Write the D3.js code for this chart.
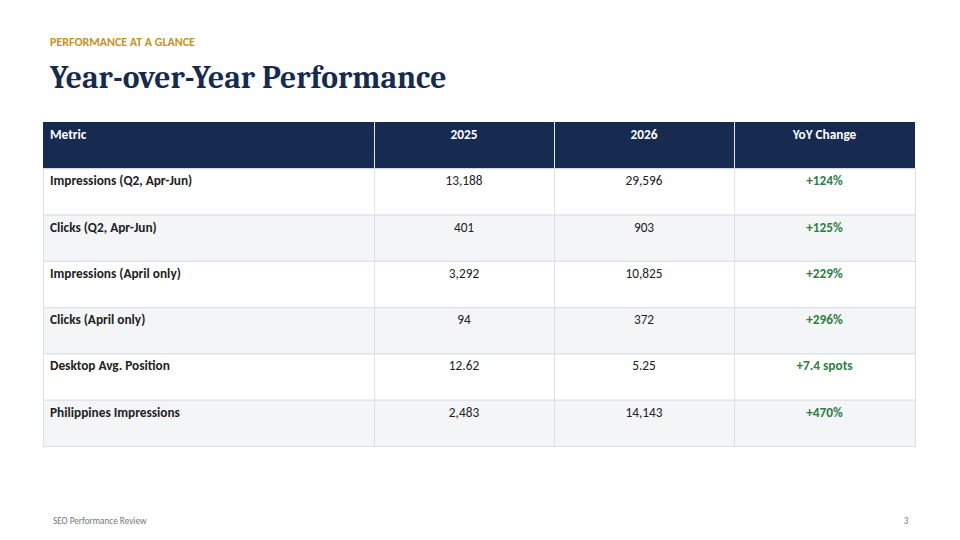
<!DOCTYPE html>
<html>
<head>
<meta charset="utf-8">
<script src="https://cdn.jsdelivr.net/npm/d3@7"></script>
<style>
  body { margin: 0; background: #fff; }
  svg { display: block; }
</style>
</head>
<body>
<div id="slide"></div>
<script>
// table content
var columns = ["Metric", "2025", "2026", "YoY Change"];
var metrics = ["Impressions (Q2, Apr-Jun)", "Clicks (Q2, Apr-Jun)", "Impressions (April only)",
  "Clicks (April only)", "Desktop Avg. Position", "Philippines Impressions"];
var values2025 = ["13,188", "401", "3,292", "94", "12.62", "2,483"];
var values2026 = ["29,596", "903", "10,825", "372", "5.25", "14,143"];
var yoyChange = ["+124%", "+125%", "+229%", "+296%", "+7.4 spots", "+470%"];

var w = 960, h = 540;
var sans = "Carlito, Calibri, Lato, 'Open Sans', sans-serif";

var svg = d3.select("#slide").append("svg")
  .attr("width", w)
  .attr("height", h);

// kicker + title
svg.append("text")
  .attr("x", 50).attr("y", 46)
  .attr("font-family", sans)
  .attr("font-size", 12)
  .attr("font-weight", 700)
  .attr("fill", "#c8901c")
  .text("PERFORMANCE AT A GLANCE");

svg.append("text")
  .attr("x", 50).attr("y", 88)
  .attr("font-family", "Caladea, Cambria, 'Liberation Serif', serif")
  .attr("font-size", 31.6)
  .attr("font-weight", 700)
  .attr("fill", "#172a50")
  .text("Year-over-Year Performance");

// table layout
var rows = metrics.map(function (m, i) {
  return [m, values2025[i], values2026[i], yoyChange[i]];
});

var colWidths = [331, 180, 180, 181];
var colX = [43];
colWidths.forEach(function (cw, i) { colX.push(colX[i] + cw); });

var y = d3.scaleBand()
  .domain(d3.range(rows.length + 1))
  .range([122, 446]);

var table = svg.append("g");

// header
var header = table.append("g");
header.append("rect")
  .attr("x", colX[0]).attr("y", y(0))
  .attr("width", colX[4] - colX[0]).attr("height", y.bandwidth())
  .attr("fill", "#172a50");

header.selectAll("line")
  .data([1, 2, 3])
  .enter()
  .append("line")
  .attr("x1", function (d) { return colX[d] + 0.5; })
  .attr("x2", function (d) { return colX[d] + 0.5; })
  .attr("y1", y(0)).attr("y2", y(0) + y.bandwidth())
  .attr("stroke", "#dfe3ea")
  .attr("stroke-width", 1);

header.selectAll("text")
  .data(columns)
  .enter()
  .append("text")
  .attr("x", function (d, i) { return i === 0 ? colX[0] + 7 : (colX[i] + colX[i + 1]) / 2; })
  .attr("y", y(0) + 17)
  .attr("text-anchor", function (d, i) { return i === 0 ? "start" : "middle"; })
  .attr("font-family", sans)
  .attr("font-size", 13.3)
  .attr("font-weight", 700)
  .attr("fill", "#fff")
  .text(function (d) { return d; });

// body rows
var body = table.selectAll(".row")
  .data(rows)
  .enter()
  .append("g")
  .attr("class", "row")
  .attr("transform", function (d, i) { return "translate(0," + y(i + 1) + ")"; });

body.selectAll("rect")
  .data(function (d, ri) { return d.map(function (v, ci) { return { v: v, ci: ci, ri: ri }; }); })
  .enter()
  .append("rect")
  .attr("x", function (d) { return colX[d.ci] + 0.5; })
  .attr("y", 0.5)
  .attr("width", function (d) { return colWidths[d.ci]; })
  .attr("height", y.bandwidth())
  .attr("fill", function (d) { return d.ri % 2 === 1 ? "#f4f5f7" : "#ffffff"; })
  .attr("stroke", "#dcdfe5")
  .attr("stroke-width", 1);

body.selectAll("text")
  .data(function (d) { return d; })
  .enter()
  .append("text")
  .attr("x", function (d, i) { return i === 0 ? colX[0] + 7 : (colX[i] + colX[i + 1]) / 2; })
  .attr("y", 17)
  .attr("text-anchor", function (d, i) { return i === 0 ? "start" : "middle"; })
  .attr("font-family", sans)
  .attr("font-size", 13.3)
  .attr("font-weight", function (d, i) { return (i === 0 || i === 3) ? 700 : 400; })
  .attr("fill", function (d, i) { return i === 3 ? "#2f7d46" : "#222"; })
  .text(function (d) { return d; });

// footer
svg.append("text")
  .attr("x", 53).attr("y", 524)
  .attr("font-family", sans)
  .attr("font-size", 9.2)
  .attr("fill", "#777")
  .text("SEO Performance Review");

svg.append("text")
  .attr("x", 906).attr("y", 524)
  .attr("text-anchor", "middle")
  .attr("font-family", sans)
  .attr("font-size", 9.2)
  .attr("fill", "#777")
  .text("3");
</script>
</body>
</html>
